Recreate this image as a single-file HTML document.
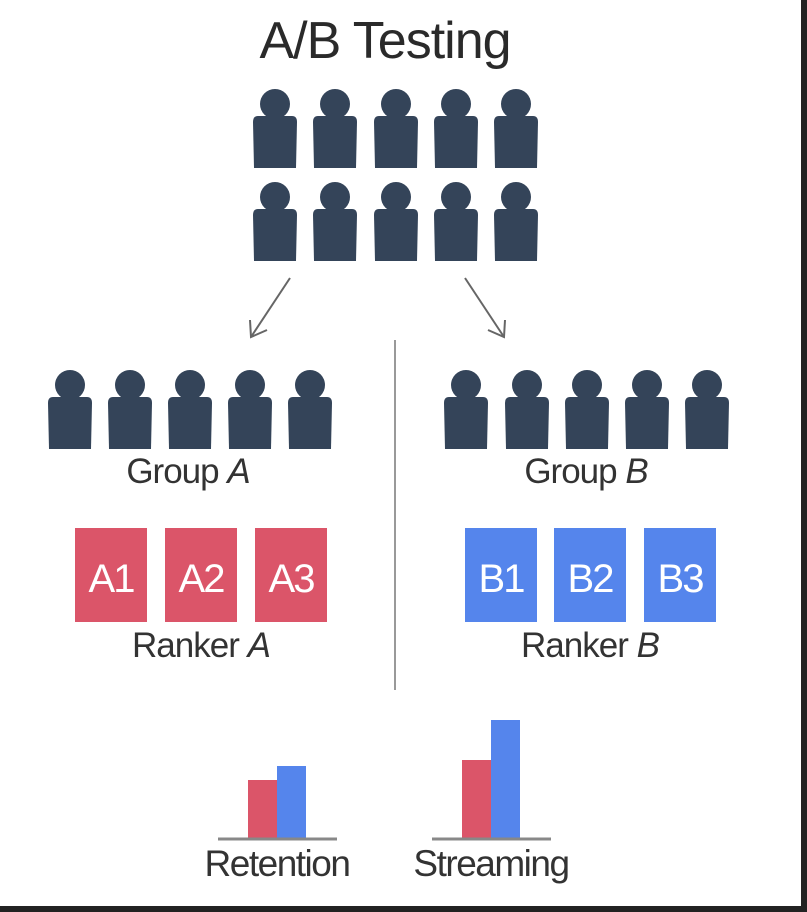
<!DOCTYPE html>
<html><head><meta charset="utf-8">
<style>
html,body{margin:0;padding:0;background:#fff;}
body{width:807px;height:912px;overflow:hidden;position:relative;font-family:"Liberation Sans",sans-serif;}
svg{position:absolute;left:0;top:0;}
</style></head>
<body>
<svg id="s" width="807" height="912" viewBox="0 0 807 912" xmlns="http://www.w3.org/2000/svg">
  <rect x="0" y="0" width="807" height="912" fill="#fff"/>
  <rect x="801" y="0" width="6" height="912" fill="#222"/>
  <rect x="0" y="906" width="807" height="6" fill="#222"/>
  <text x="385" y="58" font-size="52" letter-spacing="-1" text-anchor="middle" fill="#2a2a2a">A/B Testing</text>
  <g id="people"></g>
  <g stroke="#666" stroke-width="2" fill="none">
    <line x1="290" y1="278" x2="251" y2="337"/>
    <polyline points="250,320 251,337 267,330"/>
    <line x1="465" y1="278" x2="504" y2="337"/>
    <polyline points="505,320 504,337 488,330"/>
  </g>
  <line x1="395" y1="340" x2="395" y2="690" stroke="#999" stroke-width="2"/>
  <text x="188" y="483" font-size="35" letter-spacing="-1" text-anchor="middle" fill="#333">Group <tspan font-style="italic">A</tspan></text>
  <text x="586" y="483" font-size="35" letter-spacing="-1" text-anchor="middle" fill="#333">Group <tspan font-style="italic">B</tspan></text>
  <g id="rankers"></g>
  <text x="201" y="657" font-size="35" letter-spacing="-1" text-anchor="middle" fill="#333">Ranker <tspan font-style="italic">A</tspan></text>
  <text x="590" y="657" font-size="35" letter-spacing="-1" text-anchor="middle" fill="#333">Ranker <tspan font-style="italic">B</tspan></text>
  <g id="charts"></g>
</svg>
<script>
const categories = ["Retention", "Streaming"];
const groupAValues = [58, 78];
const groupBValues = [72, 118];
const seriesColors = ["#db5569", "#5585ec"];

const NS = "http://www.w3.org/2000/svg";
function mk(tag, attrs, parent){
  const e = document.createElementNS(NS, tag);
  for (const k in attrs) e.setAttribute(k, attrs[k]);
  parent.appendChild(e);
  return e;
}
const people = document.getElementById("people");
function person(cx, top){
  const g = mk("g", {fill:"#344459"}, people);
  
  
  mk("circle", {cx:cx, cy:top+16, r:15}, g);
  mk("path", {d:`M${cx-17},${top+28} L${cx+17},${top+28} Q${cx+22},${top+28} ${cx+22},${top+34} L${cx+21},${top+80} L${cx-21},${top+80} L${cx-22},${top+34} Q${cx-22},${top+28} ${cx-17},${top+28} Z`}, g);
}
[275,335,396,456,516].forEach(c=>{person(c,88);person(c,181);});
[70,130,190,250,310].forEach(c=>person(c,369));
[466,527,587,647,707].forEach(c=>person(c,369));

const rk = document.getElementById("rankers");
const rankerDefs = [["A1",75,"#db5569"],["A2",165,"#db5569"],["A3",255,"#db5569"],["B1",465,"#5585ec"],["B2",554,"#5585ec"],["B3",644,"#5585ec"]];
rankerDefs.forEach(d=>{
  const r = mk("rect", {x:d[1], y:528, width:72, height:94, fill:d[2]}, rk);
  
  
  const t = mk("text", {x:d[1]+36, y:592, "font-size":40, "letter-spacing":-2, "text-anchor":"middle", fill:"#fff"}, rk);
  t.textContent = d[0];
  
  
});

const charts = document.getElementById("charts");
const baseY = 838, pxPerUnit = 1.0, barW = 29;
const chartCenters = [277, 491];
function yScale(v){ return baseY - v * pxPerUnit; }
categories.forEach((cat, i)=>{
  const cx = chartCenters[i];
  const vals = [groupAValues[i], groupBValues[i]];
  vals.forEach((v, j)=>{
    const b = mk("rect", {x: cx - barW + j*barW, y: yScale(v), width: barW, height: baseY - yScale(v), fill: seriesColors[j]}, charts);
    
    
  });
  const ax = mk("line", {x1: cx-59, x2: cx+60, y1: baseY+1, y2: baseY+1, stroke:"#888", "stroke-width":3}, charts);
  
  
  const t = mk("text", {x: cx, y: 876, "font-size":37, "letter-spacing":-1.5, "text-anchor":"middle", fill:"#333"}, charts);
  t.textContent = cat;
  
  
});
</script>
</body></html>
